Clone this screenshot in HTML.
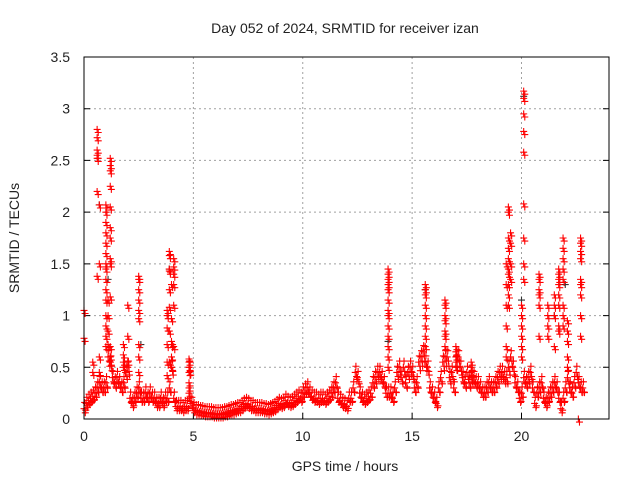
<!DOCTYPE html>
<html><head><meta charset="utf-8"><style>
body{margin:0;background:#fff}
svg{display:block;font-family:"Liberation Sans",sans-serif}
</style></head><body>
<svg id="chart" width="640" height="480" viewBox="0 0 640 480">
<rect width="640" height="480" fill="#fff"/>
<text x="345" y="33" font-size="14" text-anchor="middle" fill="#222">Day 052 of 2024, SRMTID for receiver izan</text>
<text x="345" y="471" font-size="14" text-anchor="middle" fill="#222">GPS time / hours</text>
<text x="19" y="238" font-size="14" text-anchor="middle" fill="#222" transform="rotate(-90 19 238)">SRMTID / TECUs</text>
<g id="grid"></g>
<g id="ticks"></g>
<g id="blackpts"></g>
<g id="redpts"></g>
<rect x="84" y="57" width="525" height="362" fill="none" stroke="#000" stroke-width="1"/>
</svg>
<script>
const xTicks=[0,5,10,15,20];
const yTicks=[0,0.5,1,1.5,2,2.5,3,3.5];
const yTickLabels=["0","0.5","1","1.5","2","2.5","3","3.5"];
const baseStart=0, baseStep=0.1;
const baseValues=[0.1,0.15,0.18,0.2,0.22,0.25,0.3,0.35,0.3,0.3,0.35,
0.6,0.55,0.4,0.35,0.4,0.35,0.3,0.35,0.45,0.5,
0.2,0.15,0.2,0.25,0.3,0.2,0.2,0.25,0.2,0.25,
0.2,0.2,0.15,0.15,0.2,0.15,0.2,0.2,0.3,0.5,
0.2,0.12,0.12,0.12,0.1,0.12,0.12,0.5,0.15,0.1,
0.08,0.08,0.07,0.07,0.06,0.06,0.06,0.06,0.05,0.05,
0.05,0.05,0.05,0.06,0.06,0.07,0.08,0.08,0.09,0.1,
0.1,0.12,0.14,0.15,0.14,0.12,0.12,0.1,0.1,0.1,
0.1,0.09,0.09,0.08,0.09,0.1,0.11,0.13,0.15,0.14,
0.15,0.18,0.16,0.15,0.16,0.18,0.2,0.22,0.2,0.25,
0.28,0.3,0.25,0.22,0.2,0.2,0.18,0.2,0.2,0.18,
0.2,0.22,0.25,0.3,0.35,0.2,0.18,0.15,0.14,0.12,
0.2,0.2,0.3,0.45,0.4,0.25,0.2,0.18,0.2,0.22,
0.25,0.35,0.4,0.45,0.45,0.4,0.35,0.25,0.25,0.25,
0.2,0.3,0.45,0.5,0.4,0.5,0.35,0.45,0.5,0.45,
0.3,0.35,0.55,0.6,0.65,0.55,0.5,0.3,0.25,0.2,
0.15,0.3,0.4,0.55,0.6,0.6,0.4,0.45,0.3,0.55,
0.6,0.5,0.4,0.35,0.45,0.35,0.4,0.4,0.35,0.35,
0.3,0.25,0.25,0.3,0.35,0.3,0.3,0.35,0.4,0.45,
0.45,0.4,0.4,0.5,0.6,0.5,0.35,0.3,0.2,0.25,
0.4,0.35,0.4,0.45,0.3,0.15,0.25,0.3,0.35,0.2,
0.15,0.2,0.25,0.3,0.35,0.3,0.2,0.1,0.2,0.3,
0.4,0.3,0.25,0.35,0.45,0.35,0.3,0.3];
const spikeTimes=[0.0,0.4,0.6,0.7,1.0,1.1,1.2,1.8,2.0,2.5,3.8,3.9,4.0,4.1,4.8,13.9,15.6,16.5,17.0,17.7,19.3,19.4,19.5,20.0,20.1,20.8,21.2,21.5,21.7,21.9,22.1,22.7,22.6];
const spikeValues=[[0.78,1.05],[0.55,0.45],[1.38,2.2,2.55,2.52,2.6,2.72,2.8],[2.07,1.5,0.6,0.45],
[2.07,2.0,1.9,1.8,1.7,1.6,1.5,1.45,1.35,1.25,1.15,1.0,0.9,0.8,0.7],[1.15,1.0,0.85,0.72],
[2.52,2.45,2.4,2.25,2.05,1.85,1.75,1.55,1.5,1.18,0.7,0.6,0.55],[0.72,0.62,0.55,0.5],[1.1,0.8,0.55],
[1.38,1.35,1.25,1.15,1.05,0.72,0.6,0.45,0.97],[1.05,1.0,0.88,0.72,0.55,0.42],[1.62,1.58,1.45,1.43,1.25,1.08,0.85,0.55],
[1.3,0.97,0.75,0.72,0.6,0.5],[1.55,1.47,1.4,1.3,1.1,0.7],[0.58,0.55,0.5,0.45,0.35,0.3,0.25,0.2],
[1.45,1.4,1.35,1.3,1.25,1.15,1.05,1.0,0.9,0.8,0.7,0.6,0.5],[1.3,1.25,1.2,1.1,1.0,0.9,0.8,0.7],
[1.15,1.1,1.0,0.95,0.85,0.8,0.7],[0.7,0.65,0.6,0.5],[0.55,0.5,0.45],[0.6,0.7,0.9,1.1,1.3,1.5],
[2.05,2.0,1.75,1.65,1.55,1.45,1.4,1.3,1.2,1.1],[1.8,1.7,1.5,1.35],[0.6,0.7,0.8,0.9,1.0,1.1],
[3.17,3.1,2.95,2.78,2.58,2.08,1.75,1.5,1.35],[1.4,1.35,1.25,1.2,1.1,0.8],[0.8,0.9,1.0,1.1],[1.0,1.1,1.2,0.7],
[1.35,1.45,1.4,1.3,1.1,0.9,0.85,1.2],[1.75,1.65,1.55,1.45,1.35,1.1,1.0,0.9],[0.95,0.85,0.75,0.6,0.5],
[1.75,1.7,1.62,1.55,1.35,1.3,1.2,1.0,0.8],[0.0]];
const blackTimes=[0.7,1.1,2.6,3.9,20.0,20.1,21.5,22.0,15.6,13.9];
const blackValues=[2.07,1.35,0.72,1.45,1.15,3.12,1.0,1.3,1.25,0.75];

const NS="http://www.w3.org/2000/svg";
const X0=84,X1=609,Y0=419,Y1=57;
function xs(t){return X0+(t/24)*(X1-X0);}
function ys(v){return Y0-(v/3.5)*(Y0-Y1);}
function mk(tag,attrs,parent){const e=document.createElementNS(NS,tag);for(const k in attrs)e.setAttribute(k,attrs[k]);parent.appendChild(e);return e;}
const grid=document.getElementById('grid'),ticks=document.getElementById('ticks');
xTicks.forEach(t=>{
  const x=xs(t);
  if(t>0){const g=mk('line',{x1:x,x2:x,y1:Y1,y2:Y0,stroke:'#a0a0a0','stroke-dasharray':'2,3'},grid);
  
  }
  const l=mk('text',{x:x,y:Y0+22,'font-size':14,'text-anchor':'middle',fill:'#222'},ticks);
  l.textContent=String(t);
  
  
  const m=mk('line',{x1:x,x2:x,y1:Y0,y2:Y0-6,stroke:'#000'},ticks);
  
  
});
yTicks.forEach((v,i)=>{
  const y=ys(v);
  if(v>0&&v<3.5){const g=mk('line',{x1:X0,x2:X1,y1:y,y2:y,stroke:'#a0a0a0','stroke-dasharray':'2,3'},grid);
  
  }
  const l=mk('text',{x:X0-14,y:y+5,'font-size':14,'text-anchor':'end',fill:'#222'},ticks);
  l.textContent=yTickLabels[i];
  
  
  const m=mk('path',{d:`M${X0},${y}h6M${X1},${y}h-6`,stroke:'#000'},ticks);
  
  
});
function plus(t,v,color,parent,name){
  const x=xs(t),y=ys(v);
  const p=mk('path',{d:`M${x-3.5},${y}h7M${x},${y-3.5}v7`,stroke:color,'stroke-width':1.1},parent);
  
  
}
const bg=document.getElementById('blackpts'),rg=document.getElementById('redpts');
blackTimes.forEach((t,i)=>plus(t,blackValues[i],'#333',bg,'black-point'));
baseValues.forEach((v,i)=>{
  const t=baseStart+i*baseStep;
  plus(t,v,'#f00',rg,'red-point');
  plus(t+0.03,v+0.06,'#f00',rg,'red-point');
  plus(t+0.06,Math.max(0,v-0.04),'#f00',rg,'red-point');
  plus(t+0.08,v*0.85,'#f00',rg,'red-point');
});
spikeTimes.forEach((t,i)=>spikeValues[i].forEach(v=>{
  plus(t,v,'#f00',rg,'red-point');
  plus(t+0.05,v-0.03,'#f00',rg,'red-point');
}));
</script>
</body></html>
